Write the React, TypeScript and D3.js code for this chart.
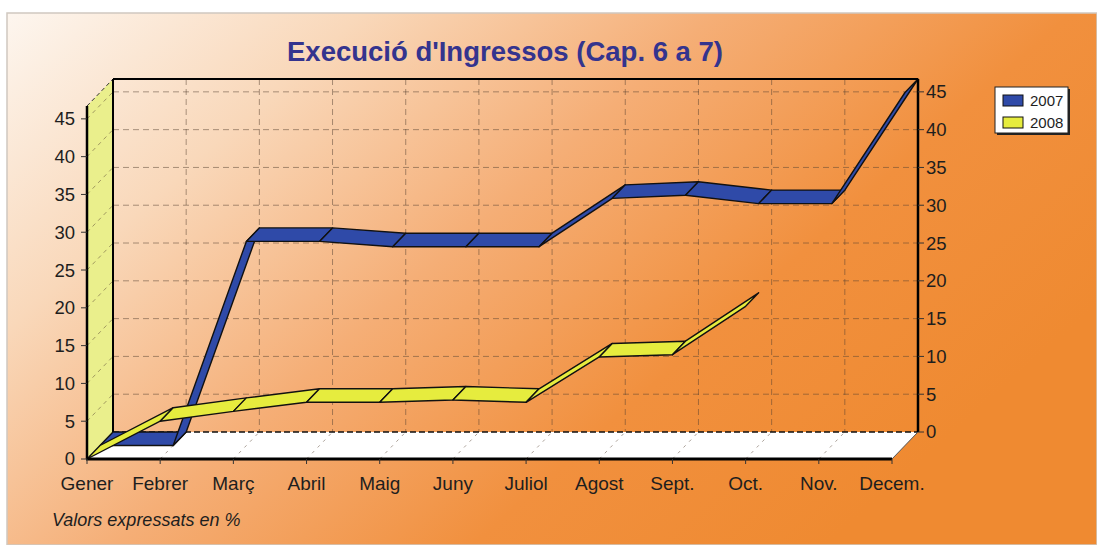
import React from 'react';
import * as d3 from 'd3';

// months on the category axis
const months = ['Gener', 'Febrer', 'Març', 'Abril', 'Maig', 'Juny', 'Juliol', 'Agost', 'Sept.', 'Oct.', 'Nov.', 'Decem.'];
// % executed
const values2007 = [0, 0, 27.0, 27.0, 26.3, 26.3, 26.3, 32.7, 33.1, 32.0, 32.0, 46.7];
const values2008 = [0, 5, 6.3, 7.5, 7.5, 7.8, 7.5, 13.5, 13.8, 20.2];
const yTicks = [0, 5, 10, 15, 20, 25, 30, 35, 40, 45];
const seriesNames = ['2007', '2008'];
const seriesColors = ['#2f4aa8', '#e6ec3e'];

const W = 1097;
const H = 545;
const DX = 26; // depth offset of the back wall
const DY = 27;
const FONT = 'Liberation Sans, Arial, sans-serif';

const App: React.FC = () => {
  const x = d3.scalePoint<string>().domain(months).range([87, 892]);
  const y = d3.scaleLinear().domain([0, 46.7]).range([459, 106]);

  const pt = (m: string, v: number, z: number) => [x(m)! + z * DX, y(v) - z * DY];

  // ribbon: front edge at depth z0, back edge at z1
  const ribbon = (vals: number[], z0: number, z1: number) =>
    vals.slice(0, -1).map((v, i) => {
      const a = months[i];
      const b = months[i + 1];
      const p = [pt(a, v, z0), pt(b, vals[i + 1], z0), pt(b, vals[i + 1], z1), pt(a, v, z1)];
      return p.map((q) => q.join(',')).join(' ');
    });

  const x0 = x(months[0])!;
  const x1 = x(months[months.length - 1])!;
  const yTop = y(46.7);
  const y0 = y(0);
  const grid = 'rgba(85,65,50,0.5)';

  return (
    <svg width={W} height={H} style={{ position: 'absolute', left: 0, top: 0 }}>
      <defs>
        <linearGradient id="bg" x1="0" y1="0" x2="1" y2="0.55">
          <stop offset="0" stopColor="#fdf6ef" />
          <stop offset="0.25" stopColor="#f9d8ba" />
          <stop offset="0.5" stopColor="#f5ae76" />
          <stop offset="0.75" stopColor="#f1903e" />
          <stop offset="1" stopColor="#ef8a31" />
        </linearGradient>
      </defs>
      <rect width={W} height={H} fill="#fff" />
      <rect x={7} y={13} width={W - 7} height={H - 13} fill="url(#bg)" stroke="#cfc8c0" strokeWidth={1.5} />

      <text x={505} y={61} textAnchor="middle" fontFamily={FONT} fontSize={27.5} fontWeight="bold" fill="#34348e">
        Execució d'Ingressos (Cap. 6 a 7)
      </text>

      {/* back wall grid */}
      {yTicks.slice(1).map((t) => (
        <line key={'h' + t} x1={x0 + DX} x2={x1 + DX} y1={y(t) - DY} y2={y(t) - DY} stroke={grid} strokeDasharray="6,4" />
      ))}
      {months.slice(1, -1).map((m) => (
        <line key={'v' + m} x1={x(m)! + DX} x2={x(m)! + DX} y1={yTop - DY} y2={y0 - DY} stroke={grid} strokeDasharray="6,4" />
      ))}

      {/* left wall */}
      <polygon
        points={[[x0, y0], [x0 + DX, y0 - DY], [x0 + DX, yTop - DY], [x0, yTop]].map((q) => q.join(',')).join(' ')}
        fill="#eaef8c"
      />
      {yTicks.slice(1).map((t) => (
        <line key={'lw' + t} x1={x0} y1={y(t)} x2={x0 + DX} y2={y(t) - DY} stroke={grid} strokeDasharray="4,4" />
      ))}
      <line x1={x0} y1={yTop} x2={x0 + DX} y2={yTop - DY} stroke="#333" strokeDasharray="4,3" />

      {/* floor */}
      <polygon
        points={[[x0, y0], [x1, y0], [x1 + DX, y0 - DY], [x0 + DX, y0 - DY]].map((q) => q.join(',')).join(' ')}
        fill="#ffffff"
      />
      {months.slice(1, -1).map((m) => (
        <line key={'f' + m} x1={x(m)!} y1={y0} x2={x(m)! + DX} y2={y0 - DY} stroke={grid} strokeDasharray="3,5" />
      ))}
      <line x1={x0 + DX} x2={x1 + DX} y1={y0 - DY} y2={y0 - DY} stroke="#111" strokeDasharray="6,3" strokeWidth={1.5} />
      <line x1={x1} y1={y0} x2={x1 + DX} y2={y0 - DY} stroke="#555" />

      {/* series ribbons: 2007 behind, 2008 in front */}
      {ribbon(values2007, 0.5, 1).map((p, i) => (
        <polygon key={'b' + i} points={p} fill={seriesColors[0]} stroke="#111" strokeWidth={1.4} strokeLinejoin="round" />
      ))}
      {ribbon(values2008, 0, 0.5).map((p, i) => (
        <polygon key={'y' + i} points={p} fill={seriesColors[1]} stroke="#111" strokeWidth={1.4} strokeLinejoin="round" />
      ))}

      {/* frame */}
      <line x1={x0 + DX} x2={x1 + DX} y1={yTop - DY} y2={yTop - DY} stroke="#000" strokeWidth={2} />
      <line x1={x1 + DX} x2={x1 + DX} y1={yTop - DY} y2={y0 - DY} stroke="#000" strokeWidth={2.5} />
      <line x1={x0 + DX} x2={x0 + DX} y1={yTop - DY} y2={y0 - DY} stroke="#000" strokeWidth={2} />
      <line x1={x0} x2={x0} y1={yTop} y2={y0} stroke="#000" strokeWidth={2.5} />
      <line x1={x0 - 1} x2={x1} y1={y0} y2={y0} stroke="#000" strokeWidth={3} />

      {/* left axis */}
      {yTicks.map((t) => (
        <g key={'la' + t}>
          <line x1={x0 - 6} x2={x0} y1={y(t)} y2={y(t)} stroke="#333" />
          <text x={x0 - 12} y={y(t)} dy="0.35em" textAnchor="end" fontFamily={FONT} fontSize={18.5} fill="#1e1e1e">
            {t}
          </text>
        </g>
      ))}
      {/* right axis */}
      {yTicks.map((t) => (
        <g key={'ra' + t}>
          <line x1={x1 + DX} x2={x1 + DX + 6} y1={y(t) - DY} y2={y(t) - DY} stroke="#333" />
          <text x={x1 + DX + 8} y={y(t) - DY} dy="0.35em" fontFamily={FONT} fontSize={18.5} fill="#1e1e1e">
            {t}
          </text>
        </g>
      ))}
      {/* category axis */}
      {months.map((m) => (
        <g key={'c' + m}>
          <line x1={x(m)!} x2={x(m)!} y1={y0} y2={y0 + 5} stroke="#333" />
          <text x={x(m)!} y={490} textAnchor="middle" fontFamily={FONT} fontSize={19} fill="#1e1e1e">
            {m}
          </text>
        </g>
      ))}

      <text x={52} y={526} fontFamily={FONT} fontSize={18} fontStyle="italic" fill="#1e1e1e">
        Valors expressats en %
      </text>

      {/* legend */}
      <rect x={997} y={89} width={73} height={46} fill="#222" />
      <rect x={995} y={87} width={73} height={46} fill="#fff" stroke="#222" />
      {seriesNames.map((s, i) => (
        <g key={'lg' + s}>
          <rect x={1003} y={95 + i * 22} width={20} height={11} fill={seriesColors[i]} stroke="#111" />
          <text x={1030} y={101 + i * 22} dy="0.35em" fontFamily={FONT} fontSize={15} fill="#1e1e1e">
            {s}
          </text>
        </g>
      ))}
    </svg>
  );
};

export default App;
